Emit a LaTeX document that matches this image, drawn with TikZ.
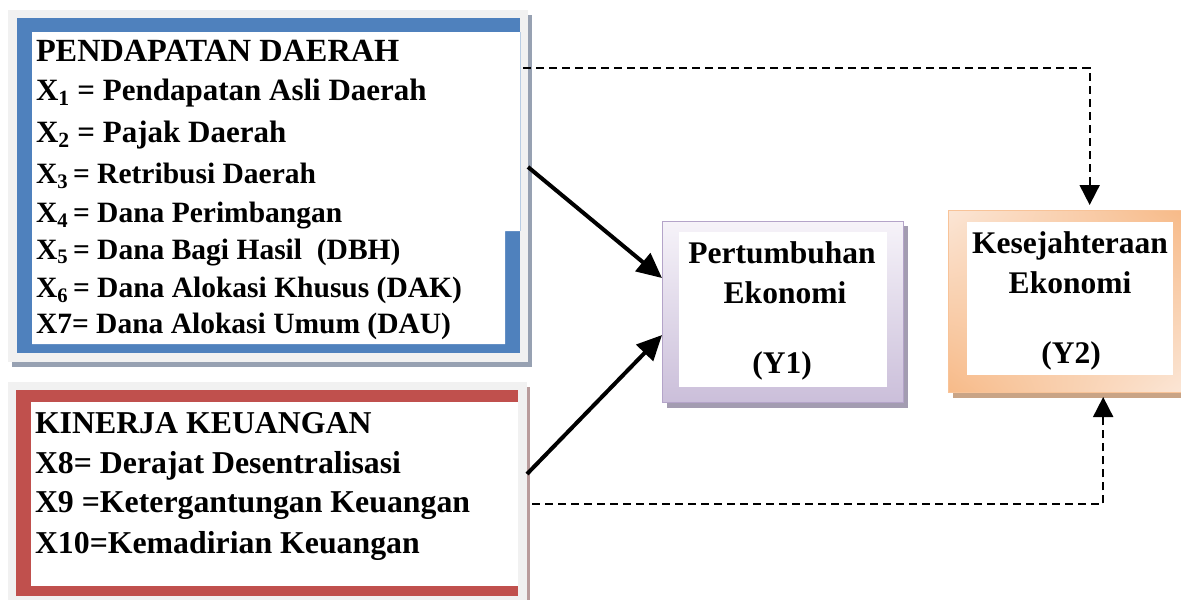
\documentclass[tikz,border=0pt]{standalone}
\usepackage{fontspec}
\setmainfont{Liberation Serif}
\usetikzlibrary{arrows.meta,calc,shadings}
\definecolor{blueF}{HTML}{4F81BD}
\definecolor{redF}{HTML}{C0504D}
\definecolor{frameGray}{HTML}{F1F1F1}
\definecolor{shadowBlue}{HTML}{97A1B2}
\definecolor{shadowRose}{HTML}{B99C9C}
\definecolor{lavTop}{HTML}{F6F3F9}
\definecolor{lavBot}{HTML}{CBBFDA}
\definecolor{lavLine}{HTML}{B4A4C9}
\definecolor{lavShadow}{HTML}{A39CB1}
\definecolor{peachLight}{HTML}{FBE6D6}
\definecolor{peachDark}{HTML}{F7BA88}
\definecolor{peachLine}{HTML}{F8C398}
\definecolor{peachShadow}{HTML}{C9A486}
\tikzset{
  boxfill/.style={inner sep=0pt, outer sep=0pt, draw=none},
  txt/.style={inner sep=0pt, outer sep=0pt, anchor=base west, font=\bfseries\fontsize{31}{36}\selectfont},
  txth/.style={inner sep=0pt, outer sep=0pt, anchor=base west, font=\bfseries\fontsize{32.3}{36}\selectfont},
  txts/.style={inner sep=0pt, outer sep=0pt, anchor=base west, font=\bfseries\fontsize{29.5}{34}\selectfont},
  txtk/.style={inner sep=0pt, outer sep=0pt, anchor=base west, font=\bfseries\fontsize{31.8}{36}\selectfont},
  ytxt/.style={inner sep=0pt, outer sep=0pt, anchor=base, font=\bfseries\fontsize{31.5}{36}\selectfont},
  solidarr/.style={line width=4pt, -{Triangle[length=25pt,width=23pt]}},
  dasharr/.style={line width=1.9pt, dash pattern=on 8pt off 5pt, -{Triangle[length=20pt,width=20pt]}}
}
\begin{document}
\begin{tikzpicture}[x=1pt,y=-1pt]
\useasboundingbox (0,0) rectangle (1181,600);
% ---- Box 1 : Pendapatan Daerah
\fill[shadowBlue] (12,362) rectangle (532,367);
\fill[shadowBlue] (528,15) rectangle (532,367);
\node[boxfill, fill=frameGray, minimum width=520pt, minimum height=352pt] (pdf) at (268,186) {};
\node[boxfill, fill=blueF, minimum width=503pt, minimum height=335pt] (pd) at (268.5,185.5) {};
\fill[white] (32,32) -- (520,32) -- (520,231) -- (505,231) -- (505,344) -- (32,344) -- cycle;
\draw[blueF!40, line width=0.8pt] (520.4,32) -- (520.4,231);
\node[txth] (h1) at (36,61) {PENDAPATAN DAERAH};
\node[txt] (x1) at (36,100) {X\textsubscript{1} = Pendapatan Asli Daerah};
\node[txt] (x2) at (36,142) {X\textsubscript{2} = Pajak Daerah};
\node[txts] (x3) at (36,183) {X\textsubscript{3}\,= Retribusi Daerah};
\node[txts] (x4) at (36,222) {X\textsubscript{4}\,= Dana Perimbangan};
\node[txts] (x5) at (36,259) {X\textsubscript{5}\,= Dana Bagi Hasil~ (DBH)};
\node[txts] (x6) at (36,297) {X\textsubscript{6}\,= Dana Alokasi Khusus (DAK)};
\node[txts] (x7) at (36,333) {X7= Dana Alokasi Umum (DAU)};
% ---- Box 2 : Kinerja Keuangan
\node[boxfill, fill=frameGray, minimum width=519pt, minimum height=218pt] (kkf) at (267.5,491) {};
\fill[shadowRose] (527,387) rectangle (530,600);
\node[boxfill, fill=redF, minimum width=502pt, minimum height=206pt] (kk) at (267,493) {};
\fill[white] (31,402) rectangle (518,586);
\node[txtk] (h2) at (35,433) {KINERJA KEUANGAN};
\node[txtk] (x8) at (35,473) {X8= Derajat Desentralisasi};
\node[txtk] (x9) at (35,512) {X9 =Ketergantungan Keuangan};
\node[txtk] (x10) at (35,553) {X10=Kemadirian Keuangan};
% ---- Y1
\fill[lavShadow] (667,402) rectangle (908,408);
\fill[lavShadow] (903,226) rectangle (908,408);
\node[boxfill, draw=lavLine, line width=0.8pt, top color=lavTop, bottom color=lavBot, minimum width=241pt, minimum height=181pt] (y1) at (782.5,311.5) {};
\fill[white] (679,232) rectangle (887,387);
\node[ytxt] (y1a) at (782,263) {Pertumbuhan};
\node[ytxt] (y1b) at (785,303) {Ekonomi};
\node[ytxt] (y1c) at (782,373) {(Y1)};
% ---- Y2
\fill[peachShadow] (953,392) rectangle (1181,398);
\node[boxfill, draw=peachLine, line width=0.8pt, upper left=peachLight, upper right=peachDark, lower left=peachDark, lower right=peachLight, minimum width=233pt, minimum height=182pt] (y2) at (1064.5,301) {};
\fill[white] (967,222) rectangle (1173,375);
\node[ytxt] (y2a) at (1070,253) {Kesejahteraan};
\node[ytxt] (y2b) at (1070,293) {Ekonomi};
\node[ytxt] (y2c) at (1071,363) {(Y2)};
% ---- connectors
\draw[solidarr] ($(pdf.north east)!0.446!(pdf.south east)$) -- ($(y1.north west)!0.315!(y1.south west)$);
\draw[solidarr] ($(kkf.north east)!0.422!(kkf.south east)$) -- ($(y1.north west)!0.63!(y1.south west)$);
\draw[dasharr, shorten >=5pt] ([xshift=-5pt]$(pdf.north east)!0.165!(pdf.south east)$) -| ($(y2.north west)!0.608!(y2.north east)$);
\draw[dasharr, shorten >=5pt] ([xshift=5pt]$(kkf.north east)!0.56!(kkf.south east)$) -| ($(y2.south west)!0.666!(y2.south east)$);
\end{tikzpicture}
\end{document}
